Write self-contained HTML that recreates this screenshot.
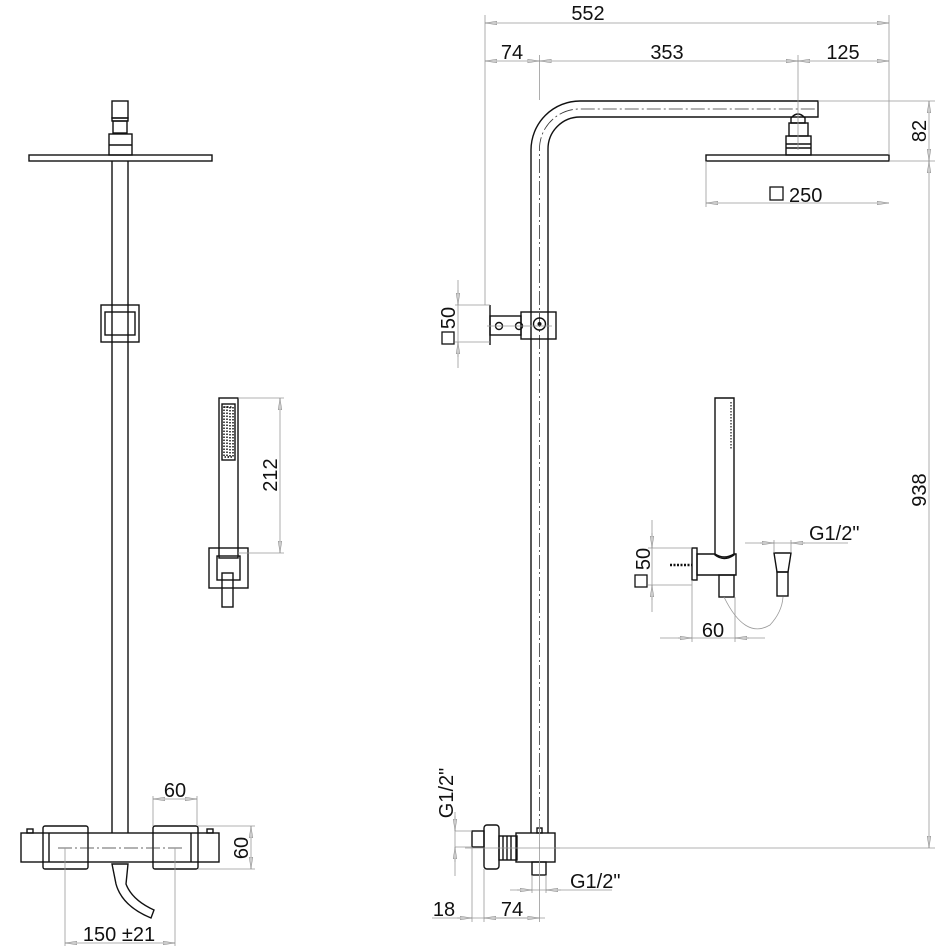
<!DOCTYPE html>
<html><head><meta charset="utf-8"><style>
html,body{margin:0;padding:0;background:#fff}
svg{display:block}
text{font-family:"Liberation Sans Narrow","Liberation Sans",sans-serif;font-size:20px;fill:#111}
.o{fill:none;stroke:#111;stroke-width:1.4}
.d{fill:none;stroke:#999;stroke-width:0.8}
.c{fill:none;stroke:#333;stroke-width:0.8;stroke-dasharray:14 3 2 3}
</style></head><body>
<svg width="952" height="952" viewBox="0 0 952 952" xmlns="http://www.w3.org/2000/svg">
<defs>
<marker id="ar" viewBox="-12 0 12 6" refX="0" refY="3" markerWidth="12" markerHeight="6" markerUnits="userSpaceOnUse" orient="auto-start-reverse"><path d="M0,3 L-12,1.2 L-12,4.8 Z" fill="#ccc" stroke="#888" stroke-width=".5"/></marker>
</defs>

<!-- ===== LEFT VIEW ===== -->
<rect class="o" x="29" y="155" width="183" height="6"/>
<rect class="o" x="112" y="101" width="16" height="17"/>
<rect class="o" x="112" y="118" width="16" height="3"/>
<rect class="o" x="113" y="121" width="14" height="12"/>
<rect class="o" x="109" y="134" width="23" height="21"/>
<line class="o" x1="109" y1="145" x2="132" y2="145"/>
<line class="o" x1="112" y1="161" x2="112" y2="833"/>
<line class="o" x1="128" y1="161" x2="128" y2="833"/>
<rect class="o" x="101" y="305" width="38" height="37" fill="#fff"/>
<rect class="o" x="105" y="312" width="30" height="23" fill="#fff"/>

<!-- thermostat -->
<rect class="o" x="43" y="826" width="45" height="43" rx="2" fill="#fff"/>
<rect class="o" x="153" y="826" width="45" height="43" rx="2" fill="#fff"/>
<rect class="o" x="21" y="833" width="198" height="29" fill="#fff"/>
<line class="o" x1="49" y1="833" x2="49" y2="862"/>
<line class="o" x1="191" y1="833" x2="191" y2="862"/>
<rect class="o" x="27" y="829" width="6" height="4"/>
<rect class="o" x="207" y="829" width="6" height="4"/>
<line class="c" x1="58" y1="848" x2="184" y2="848"/>
<path class="o" d="M112,864 L128,864 L126,884 Q132,900 154,910 L151,918 Q122,906 116,884 Z" fill="#fff"/>
<!-- dims -->
<line class="d" x1="153" y1="796" x2="153" y2="826"/>
<line class="d" x1="197" y1="796" x2="197" y2="826"/>
<line class="d" x1="153" y1="799" x2="197" y2="799" marker-start="url(#ar)" marker-end="url(#ar)"/>
<text x="175" y="797" text-anchor="middle">60</text>
<line class="d" x1="198" y1="826" x2="255" y2="826"/>
<line class="d" x1="198" y1="869" x2="255" y2="869"/>
<line class="d" x1="251" y1="826" x2="251" y2="869" marker-start="url(#ar)" marker-end="url(#ar)"/>
<text transform="translate(248,848) rotate(-90)" text-anchor="middle">60</text>
<line class="d" x1="65" y1="848" x2="65" y2="946"/>
<line class="d" x1="175" y1="848" x2="175" y2="946"/>
<line class="d" x1="65" y1="943" x2="175" y2="943" marker-start="url(#ar)" marker-end="url(#ar)"/>
<text x="119" y="941" text-anchor="middle">150 ±21</text>

<!-- left hand shower -->
<rect class="o" x="219" y="398" width="19" height="160" fill="#fff"/>
<rect class="o" x="222" y="404" width="13" height="56"/>
<rect x="224" y="407" width="9" height="50" fill="none" stroke="#111" stroke-width="1.5" stroke-dasharray="1.5 1.5"/>
<rect x="227" y="407" width="3" height="50" fill="none" stroke="#111" stroke-width="1.5" stroke-dasharray="1.5 1.5"/>
<rect class="o" x="209" y="548" width="39" height="40" fill="#fff"/>
<rect class="o" x="217" y="556" width="23" height="24" fill="#fff"/>
<rect class="o" x="222" y="573" width="11" height="34" fill="#fff"/>
<line class="d" x1="238" y1="398" x2="284" y2="398"/>
<line class="d" x1="238" y1="553" x2="284" y2="553"/>
<line class="d" x1="280" y1="398" x2="280" y2="553" marker-start="url(#ar)" marker-end="url(#ar)"/>
<text transform="translate(277,475) rotate(-90)" text-anchor="middle">212</text>

<!-- ===== RIGHT VIEW ===== -->
<path class="o" d="M531,833 L531,150 A49,49 0 0 1 580,101 L818,101 L818,117 L580,117 A32,32 0 0 0 548,149 L548,833"/>
<path class="c" d="M539.5,833 L539.5,150 A40,40 0 0 1 580,109 L815,109"/>
<!-- head connector -->
<path class="o" d="M791,123 L791,118 Q798,110 805,118 L805,123 Z" fill="#fff"/>
<rect class="o" x="789" y="123" width="19" height="13" fill="#fff"/>
<rect class="o" x="786" y="136" width="25" height="19" fill="#fff"/>
<line class="o" x1="786" y1="144" x2="811" y2="144"/>
<line class="o" x1="786" y1="148" x2="811" y2="148"/>
<rect class="o" x="706" y="155" width="183" height="6" fill="#fff"/>
<!-- top dims -->
<line class="d" x1="485" y1="15" x2="485" y2="305"/>
<line class="d" x1="889" y1="15" x2="889" y2="155"/>
<line class="d" x1="539.5" y1="55" x2="539.5" y2="100"/>
<line class="d" x1="798" y1="55" x2="798" y2="150"/>
<line class="d" x1="485" y1="23" x2="889" y2="23" marker-start="url(#ar)" marker-end="url(#ar)"/>
<text x="588" y="20" text-anchor="middle">552</text>
<line class="d" x1="485" y1="61" x2="539.5" y2="61" marker-start="url(#ar)" marker-end="url(#ar)"/>
<line class="d" x1="539.5" y1="61" x2="798" y2="61" marker-start="url(#ar)" marker-end="url(#ar)"/>
<line class="d" x1="798" y1="61" x2="889" y2="61" marker-start="url(#ar)" marker-end="url(#ar)"/>
<text x="512" y="59" text-anchor="middle">74</text>
<text x="667" y="59" text-anchor="middle">353</text>
<text x="843" y="59" text-anchor="middle">125</text>
<!-- 82 / 938 -->
<line class="d" x1="818" y1="101" x2="935" y2="101"/>
<line class="d" x1="889" y1="161" x2="935" y2="161"/>
<line class="d" x1="555" y1="848" x2="935" y2="848"/>
<line class="d" x1="929" y1="101" x2="929" y2="161" marker-start="url(#ar)" marker-end="url(#ar)"/>
<line class="d" x1="929" y1="161" x2="929" y2="848" marker-start="url(#ar)" marker-end="url(#ar)"/>
<text transform="translate(926,131) rotate(-90)" text-anchor="middle">82</text>
<text transform="translate(926,490) rotate(-90)" text-anchor="middle">938</text>
<!-- 250 -->
<line class="d" x1="706" y1="161" x2="706" y2="207"/>
<line class="d" x1="706" y1="203" x2="889" y2="203" marker-start="url(#ar)" marker-end="url(#ar)"/>
<rect x="770" y="187" width="13" height="13" fill="none" stroke="#111" stroke-width="1.3"/>
<text x="789" y="202">250</text>

<!-- bracket -->
<line class="o" x1="490" y1="305" x2="490" y2="345"/>
<rect class="o" x="490" y="316" width="31" height="19" fill="#fff"/>
<rect class="o" x="521" y="312" width="35" height="27" fill="#fff"/>
<circle class="o" cx="499" cy="326" r="3.5"/>
<circle class="o" cx="519" cy="326" r="3.5"/>
<circle class="o" cx="539.5" cy="324" r="6"/>
<circle cx="539.5" cy="324" r="2" fill="#111"/>
<line class="d" x1="487" y1="326" x2="552" y2="326"/>
<line class="d" x1="455" y1="305" x2="490" y2="305"/>
<line class="d" x1="455" y1="342" x2="490" y2="342"/>
<line class="d" x1="458" y1="280" x2="458" y2="368"/>
<line class="d" x1="458" y1="290" x2="458" y2="305" marker-end="url(#ar)"/>
<line class="d" x1="458" y1="357" x2="458" y2="342" marker-end="url(#ar)"/>
<rect x="442" y="332" width="12" height="12" fill="none" stroke="#111" stroke-width="1.3"/>
<text transform="translate(455,318) rotate(-90)" text-anchor="middle">50</text>

<!-- right hand shower -->
<path class="o" d="M715,398 L734,398 L734,555 Q724,562 715,555 Z" fill="#fff"/>
<line x1="731" y1="402" x2="731" y2="450" stroke="#111" stroke-width="1.2" stroke-dasharray="1.5 1.5"/>
<rect class="o" x="692" y="548" width="5" height="32" fill="#fff"/>
<path class="o" d="M697,554 L715,554 Q724,560 734,554 L736,554 L736,575 L697,575 Z" fill="#fff"/>
<line x1="670" y1="565" x2="692" y2="565" stroke="#111" stroke-width="2.5" stroke-dasharray="2 1.5"/>
<rect class="o" x="719" y="575" width="15" height="22" fill="#fff"/>
<path class="d" d="M724,597 Q745,640 770,625 Q782,612 783,597"/>
<path class="o" d="M774,553 L791,553 L788,572 L777,572 Z" fill="#fff"/>
<rect class="o" x="777" y="572" width="11" height="24" fill="#fff"/>
<line class="d" x1="774" y1="540" x2="774" y2="553"/>
<line class="d" x1="791" y1="540" x2="791" y2="553"/>
<line class="d" x1="745" y1="543" x2="848" y2="543"/>
<line class="d" x1="760" y1="543" x2="774" y2="543" marker-end="url(#ar)"/>
<line class="d" x1="805" y1="543" x2="791" y2="543" marker-end="url(#ar)"/>
<text x="809" y="540">G1/2"</text>
<line class="d" x1="648" y1="548" x2="692" y2="548"/>
<line class="d" x1="648" y1="585" x2="692" y2="585"/>
<line class="d" x1="652" y1="520" x2="652" y2="612"/>
<line class="d" x1="652" y1="533" x2="652" y2="548" marker-end="url(#ar)"/>
<line class="d" x1="652" y1="600" x2="652" y2="585" marker-end="url(#ar)"/>
<rect x="635" y="575" width="12" height="12" fill="none" stroke="#111" stroke-width="1.3"/>
<text transform="translate(650,559) rotate(-90)" text-anchor="middle">50</text>
<line class="d" x1="692" y1="580" x2="692" y2="642"/>
<line class="d" x1="735" y1="597" x2="735" y2="642"/>
<line class="d" x1="660" y1="638" x2="765" y2="638"/>
<line class="d" x1="678" y1="638" x2="692" y2="638" marker-end="url(#ar)"/>
<line class="d" x1="749" y1="638" x2="735" y2="638" marker-end="url(#ar)"/>
<text x="713" y="637" text-anchor="middle">60</text>

<!-- bottom connector -->
<rect class="o" x="472" y="831" width="12" height="16" fill="#fff"/>
<rect class="o" x="484" y="825" width="15" height="44" rx="3" fill="#fff"/>
<rect class="o" x="499" y="836" width="18" height="24" fill="#fff"/>
<line class="o" x1="503" y1="836" x2="503" y2="860"/>
<line class="o" x1="507" y1="836" x2="507" y2="860"/>
<line class="o" x1="511" y1="836" x2="511" y2="860"/>
<rect class="o" x="516" y="833" width="39" height="29" fill="#fff"/>
<rect class="o" x="537" y="828" width="5" height="5"/>
<rect class="o" x="532" y="862" width="14" height="13" fill="#fff"/>
<line class="d" x1="465" y1="848" x2="560" y2="848"/>
<line class="d" x1="539.5" y1="820" x2="539.5" y2="876"/>
<line class="d" x1="455" y1="831" x2="472" y2="831"/>
<line class="d" x1="455" y1="847" x2="472" y2="847"/>
<line class="d" x1="455" y1="812" x2="455" y2="876"/>
<line class="d" x1="455" y1="816" x2="455" y2="831" marker-end="url(#ar)"/>
<line class="d" x1="455" y1="862" x2="455" y2="847" marker-end="url(#ar)"/>
<text transform="translate(453,793) rotate(-90)" text-anchor="middle">G1/2"</text>
<line class="d" x1="472" y1="847" x2="472" y2="922"/>
<line class="d" x1="484" y1="869" x2="484" y2="922"/>
<line class="d" x1="539.5" y1="876" x2="539.5" y2="922"/>
<line class="d" x1="432" y1="918" x2="545" y2="918"/>
<line class="d" x1="457" y1="918" x2="472" y2="918" marker-end="url(#ar)"/>
<line class="d" x1="484" y1="918" x2="539.5" y2="918" marker-start="url(#ar)" marker-end="url(#ar)"/>
<text x="444" y="916" text-anchor="middle">18</text>
<text x="512" y="916" text-anchor="middle">74</text>
<line class="d" x1="532" y1="875" x2="532" y2="893"/>
<line class="d" x1="546" y1="875" x2="546" y2="893"/>
<line class="d" x1="510" y1="890" x2="612" y2="890"/>
<line class="d" x1="517" y1="890" x2="532" y2="890" marker-end="url(#ar)"/>
<line class="d" x1="561" y1="890" x2="546" y2="890" marker-end="url(#ar)"/>
<text x="570" y="888">G1/2"</text>
</svg>
</body></html>
